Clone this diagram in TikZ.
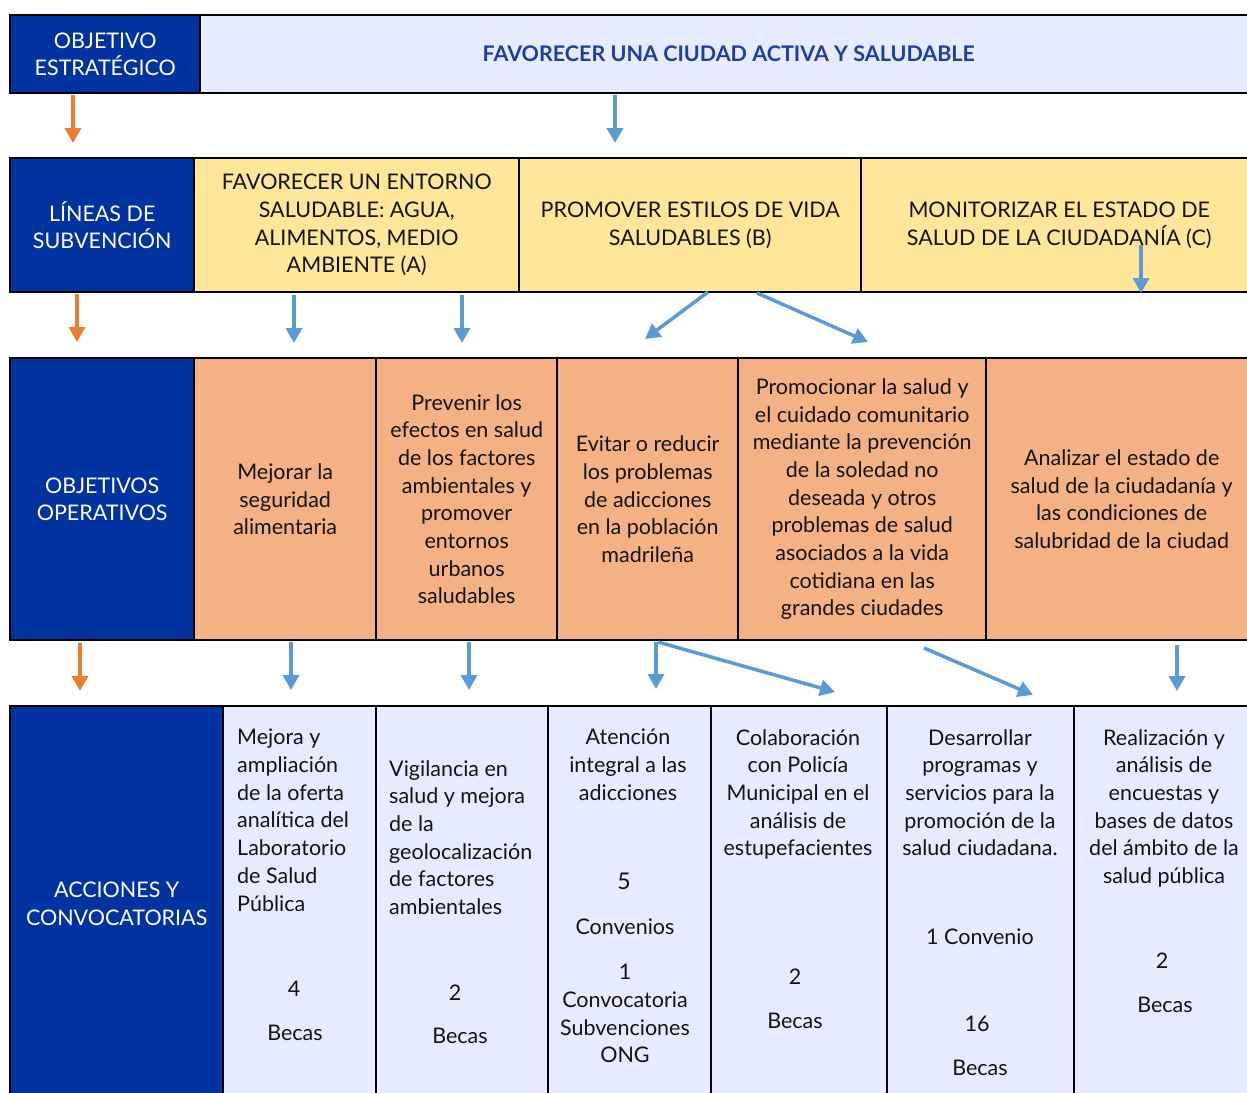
\documentclass[tikz,border=0pt]{standalone}
\usepackage{fontspec}
\setmainfont{Lato}
\usetikzlibrary{arrows.meta}
\definecolor{navy}{RGB}{0,51,160}
\definecolor{lav}{RGB}{230,235,255}
\definecolor{ylw}{RGB}{255,230,153}
\definecolor{sal}{RGB}{244,177,131}
\definecolor{arrO}{RGB}{237,125,49}
\definecolor{arrB}{RGB}{91,155,213}
\definecolor{ttl}{RGB}{32,62,160}
\definecolor{txt}{RGB}{20,20,20}
\newcommand\mycell[7]{%
  \node[cell, #6, minimum width={#4pt-#2pt}, minimum height={#5pt-#3pt}] (#1) at (#2,#3) {#7};}
\begin{document}
\begin{tikzpicture}[x=1pt,y=-1pt,
  cell/.style={draw=black, line width=2.4pt, anchor=north west, inner sep=0pt, align=center,
    text=txt, font=\fontsize{21.5}{27.7}\selectfont},
  head/.style={fill=navy, text=white},
  lbl/.style={inner sep=0pt, text=txt, font=\fontsize{21.5}{27.7}\selectfont, execute at begin node=\strut},
  lone/.style={inner sep=0pt, text=txt, font=\fontsize{21.5}{27.7}\selectfont, anchor=base},
  arrowO/.style={draw=arrO, line width=3.5pt, -{Triangle[width=16pt,length=15pt]}},
  arrowB/.style={draw=arrB, line width=3.5pt, -{Triangle[width=16pt,length=15pt]}}]
\useasboundingbox (0,0) rectangle (1247,1092);
\clip (0,0) rectangle (1247,1092);
% Row 1
\mycell{ra}{9}{14}{199}{92}{head}{OBJETIVO\\ESTRATÉGICO}
\mycell{rb}{199}{14}{1256}{92}{fill=lav, text=ttl, font=\fontsize{21.5}{27.7}\selectfont\bfseries}{FAVORECER UNA CIUDAD ACTIVA Y SALUDABLE}
% Row 2
\mycell{la}{9}{157}{193}{291}{head}{LÍNEAS DE\\SUBVENCIÓN}
\mycell{lA}{193}{157}{518}{291}{fill=ylw}{FAVORECER UN ENTORNO\\SALUDABLE: AGUA,\\ALIMENTOS, MEDIO\\AMBIENTE (A)}
\mycell{lB}{518}{157}{860}{291}{fill=ylw}{PROMOVER ESTILOS DE VIDA\\SALUDABLES (B)}
\mycell{lC}{860}{157}{1256}{291}{fill=ylw}{MONITORIZAR EL ESTADO DE\\SALUD DE LA CIUDADANÍA (C)}
% Row 3
\mycell{oa}{9}{357}{193}{639}{head}{OBJETIVOS\\OPERATIVOS}
\mycell{o1}{193}{357}{375}{639}{fill=sal}{Mejorar la\\seguridad\\alimentaria}
\mycell{o2}{375}{357}{556}{639}{fill=sal}{Prevenir los\\efectos en salud\\de los factores\\ambientales y\\promover\\entornos\\urbanos\\saludables}
\mycell{o3}{556}{357}{737}{639}{fill=sal}{Evitar o reducir\\los problemas\\de adicciones\\en la población\\madrileña}
\mycell{o4}{737}{357}{985}{639}{fill=sal}{Promocionar la salud y\\el cuidado comunitario\\mediante la prevención\\de la soledad no\\deseada y otros\\problemas de salud\\asociados a la vida\\cotidiana en las\\grandes ciudades}
\mycell{o5}{985}{357}{1256}{639}{fill=sal}{Analizar el estado de\\salud de la ciudadanía y\\las condiciones de\\salubridad de la ciudad}
% Row 4
\mycell{aa}{9}{705}{222}{1100}{head}{ACCIONES Y\\CONVOCATORIAS}
\mycell{a1}{222}{705}{375}{1100}{fill=lav}{}
\mycell{a2}{375}{705}{547}{1100}{fill=lav}{}
\mycell{a3}{547}{705}{710}{1100}{fill=lav}{}
\mycell{a4}{710}{705}{886}{1100}{fill=lav}{}
\mycell{a5}{886}{705}{1073}{1100}{fill=lav}{}
\mycell{a6}{1073}{705}{1256}{1100}{fill=lav}{}
% Row 4 texts
\node[lbl, anchor=north west, align=left] (t1) at (237,729) {Mejora y\\ampliación\\de la oferta\\analítica del\\Laboratorio\\de Salud\\Pública};
\node[lone] (n1) at (294,996) {4};
\node[lone] (b1) at (295,1040) {Becas};
\node[lbl, anchor=north west, align=left] (t2) at (389,760) {Vigilancia en\\salud y mejora\\de la\\geolocalización\\de factores\\ambientales};
\node[lone] (n2) at (455,1000) {2};
\node[lone] (b2) at (460,1043) {Becas};
\node[lbl, anchor=north, align=center] (t3) at (628,729) {Atención\\integral a las\\adicciones};
\node[lone, font=\fontsize{23}{27.7}\selectfont] (n3) at (624,889) {5};
\node[lone] (c3) at (625,934) {Convenios};
\node[lbl, anchor=north, align=center] (s3) at (625,964) {1\\Convocatoria\\Subvenciones\\ONG};
\node[lbl, anchor=north, align=center] (t4) at (798,729) {Colaboración\\con Policía\\Municipal en el\\análisis de\\estupefacientes};
\node[lone] (n4) at (795,984) {2};
\node[lone] (b4) at (795,1028) {Becas};
\node[lbl, anchor=north, align=center] (t5) at (980,729) {Desarrollar\\programas y\\servicios para la\\promoción de la\\salud ciudadana.};
\node[lone] (c5) at (980,944) {1 Convenio};
\node[lone] (n5) at (977,1031) {16};
\node[lone] (b5) at (980,1075) {Becas};
\node[lbl, anchor=north, align=center] (t6) at (1164,729) {Realización y\\análisis de\\encuestas y\\bases de datos\\del ámbito de la\\salud pública};
\node[lone] (n6) at (1162,968) {2};
\node[lone] (b6) at (1165,1012) {Becas};
% Arrow coordinates
\coordinate (o1s) at (73,95);   \coordinate (o1e) at (73,143);
\coordinate (o2s) at (77,294);  \coordinate (o2e) at (77,342);
\coordinate (o3s) at (80,643);  \coordinate (o3e) at (80,691);
\coordinate (p1s) at (615,95);  \coordinate (p1e) at (615,143);
\coordinate (p2s) at (294,295); \coordinate (p2e) at (294,343);
\coordinate (p3s) at (462,295); \coordinate (p3e) at (462,343);
\coordinate (p4s) at (708,292); \coordinate (p4e) at (645,339);
\coordinate (p5s) at (757,293); \coordinate (p5e) at (868,342);
\coordinate (p6s) at (1141,245); \coordinate (p6e) at (1141,293);
\coordinate (p7s) at (291,642); \coordinate (p7e) at (291,690);
\coordinate (p8s) at (469,642); \coordinate (p8e) at (469,690);
\coordinate (p9s) at (656,642); \coordinate (p9e) at (656,689);
\coordinate (p10s) at (658,642); \coordinate (p10e) at (835,692);
\coordinate (p11s) at (924,648); \coordinate (p11e) at (1033,695);
\coordinate (p12s) at (1177,645); \coordinate (p12e) at (1177,691);
\draw[arrowO] (o1s) -- (o1e);
\draw[arrowO] (o2s) -- (o2e);
\draw[arrowO] (o3s) -- (o3e);
\foreach \i in {1,...,12} {\draw[arrowB] (p\i s) -- (p\i e);}
\end{tikzpicture}
\end{document}
